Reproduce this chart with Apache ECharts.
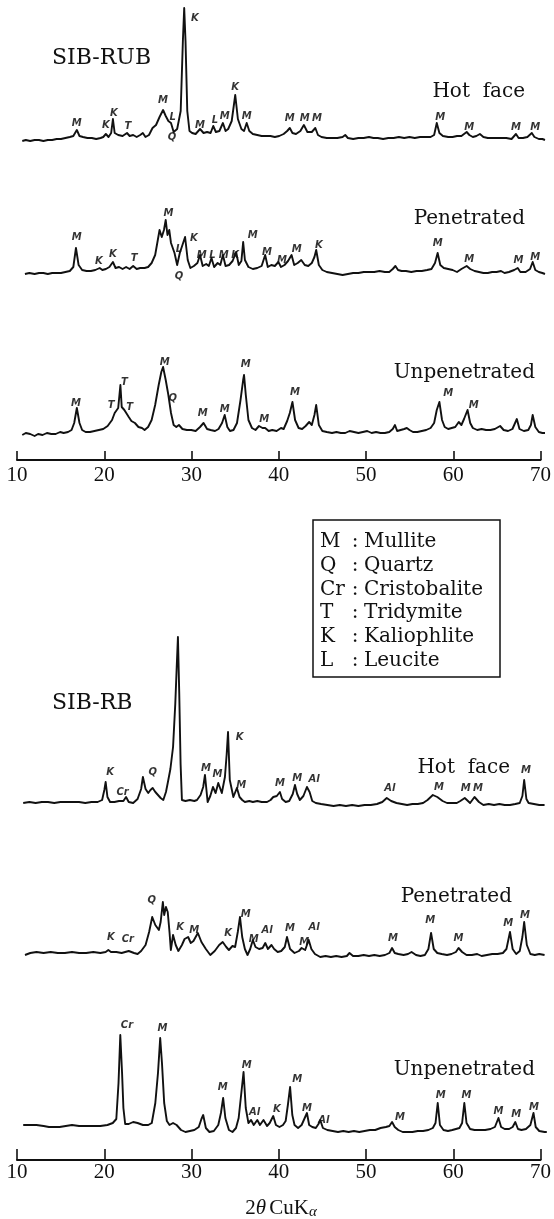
<!DOCTYPE html>
<html><head><meta charset="utf-8">
<script src="https://cdn.jsdelivr.net/npm/echarts/dist/echarts.min.js"></script>
<style>html,body{margin:0;padding:0;background:#fff}#c{width:554px;height:1219px}</style>
</head><body><div id="c"></div>
<script>
// ---- data: [2theta (deg), relative intensity] ----
const rubHot = [[10.6,0],[11.0,1],[11.5,0],[12.0,1],[12.5,1],[13.0,0],[13.5,1],[14.0,1],[14.5,2],[15.0,2],[15.5,3],[16.0,4],[16.4,5],[16.8,11],[17.1,5],[17.5,4],[18.0,3],[18.5,3],[19.0,2],[19.5,3],[19.8,4],[20.1,7],[20.4,4],[20.7,8],[20.9,22],[21.1,8],[21.5,6],[22.0,5],[22.5,8],[22.8,5],[23.2,6],[23.6,4],[24.0,6],[24.3,8],[24.6,4],[25.0,6],[25.4,13],[25.8,16],[26.2,24],[26.6,31],[26.9,25],[27.2,20],[27.5,18],[27.8,9],[28.2,12],[28.6,30],[28.85,100],[29.0,133],[29.15,100],[29.35,30],[29.6,10],[29.9,8],[30.3,7],[30.8,12],[31.2,8],[31.6,9],[32.0,8],[32.3,15],[32.6,9],[33.0,10],[33.4,18],[33.7,10],[34.0,12],[34.4,20],[34.8,46],[35.1,22],[35.5,12],[35.8,10],[36.1,18],[36.4,10],[36.8,7],[37.3,6],[37.8,5],[38.3,5],[38.8,5],[39.3,4],[39.8,5],[40.3,7],[40.7,10],[41.0,13],[41.3,8],[41.7,7],[42.2,10],[42.6,16],[43.0,9],[43.5,9],[43.9,13],[44.2,6],[44.6,4],[45.2,3],[45.8,3],[46.4,3],[47.0,4],[47.3,6],[47.6,3],[48.2,2],[48.8,3],[49.4,3],[50.0,4],[50.2,6],[50.5,3],[51.0,3],[51.6,2],[52.2,3],[52.8,3],[53.4,4],[54.0,3],[54.6,4],[55.2,3],[55.8,4],[56.4,4],[57.0,4],[57.4,6],[57.7,18],[58.0,8],[58.4,5],[59.0,4],[59.5,4],[60.0,5],[60.5,5],[60.8,7],[61.1,9],[61.4,6],[61.8,4],[62.2,5],[62.6,7],[63.0,4],[63.5,3],[64.0,3],[64.5,3],[65.0,3],[65.6,3],[66.2,2],[66.7,7],[67.0,3],[67.5,3],[68.0,4],[68.5,8],[68.8,4],[69.3,2],[69.7,2],[70.0,1]];
const rubHotTags = [[16.8,18,'M'],[20.1,16,'K'],[21.0,28,'K'],[22.6,15,'T'],[26.6,41,'M'],[27.7,24,'L'],[27.6,4,'Q'],[30.2,123,'K'],[30.8,16,'M'],[32.5,21,'L'],[33.6,25,'M'],[34.8,54,'K'],[36.1,25,'M'],[41.0,23,'M'],[42.7,23,'M'],[44.1,23,'M'],[58.1,24,'M'],[61.4,14,'M'],[66.7,14,'M'],[68.9,14,'M']];

const rubPen = [[10.9,1],[11.4,2],[12.0,1],[12.5,2],[13.0,2],[13.5,1],[14.0,2],[14.5,2],[15.0,2],[15.5,3],[16.0,4],[16.4,8],[16.7,27],[17.0,10],[17.4,5],[17.9,4],[18.4,4],[18.9,5],[19.4,7],[19.7,5],[20.1,6],[20.5,8],[20.9,13],[21.2,7],[21.6,8],[22.0,6],[22.4,8],[22.8,6],[23.2,9],[23.6,6],[24.0,7],[24.5,7],[24.9,8],[25.3,12],[25.7,20],[26.0,35],[26.2,45],[26.45,38],[26.7,45],[26.9,55],[27.1,40],[27.3,45],[27.5,32],[27.7,30],[27.9,22],[28.2,10],[28.5,22],[28.8,30],[29.1,38],[29.4,15],[29.7,7],[30.1,9],[30.5,12],[30.8,20],[31.1,9],[31.5,11],[31.8,9],[32.1,17],[32.4,8],[32.8,12],[33.1,10],[33.4,20],[33.7,9],[34.1,10],[34.5,14],[34.9,23],[35.2,10],[35.5,14],[35.7,33],[35.9,15],[36.3,8],[36.8,6],[37.3,7],[37.8,9],[38.2,20],[38.5,8],[38.9,10],[39.3,9],[39.7,13],[40.0,8],[40.4,10],[40.8,14],[41.2,20],[41.5,10],[41.9,12],[42.3,15],[42.7,10],[43.1,9],[43.5,12],[43.8,18],[44.0,25],[44.3,10],[44.7,5],[45.2,3],[45.8,2],[46.4,1],[47.0,0],[47.6,1],[48.2,2],[48.8,2],[49.4,3],[50.0,3],[50.6,3],[51.2,4],[51.8,3],[52.3,3],[52.7,6],[53.0,9],[53.3,5],[53.7,4],[54.2,4],[54.8,3],[55.4,4],[56.0,4],[56.6,5],[57.1,6],[57.5,12],[57.8,22],[58.1,10],[58.5,7],[59.0,6],[59.5,5],[60.0,3],[60.5,6],[61.1,9],[61.5,6],[62.0,4],[62.5,3],[63.0,2],[63.5,2],[64.0,3],[64.5,3],[65.0,4],[65.4,2],[65.9,3],[66.5,5],[66.9,7],[67.2,3],[67.8,3],[68.3,6],[68.6,13],[68.9,5],[69.3,3],[69.7,2],[70.0,1]];
const rubPenTags = [[16.8,38,'M'],[19.3,14,'K'],[20.9,21,'K'],[23.3,17,'T'],[27.2,62,'M'],[28.4,26,'L'],[28.4,-1,'Q'],[30.1,37,'K'],[31.0,20,'M'],[32.2,20,'L'],[33.5,20,'M'],[34.8,20,'K'],[36.8,40,'M'],[38.4,23,'M'],[40.1,15,'M'],[41.8,26,'M'],[44.3,30,'K'],[57.8,32,'M'],[61.4,16,'M'],[67.0,15,'M'],[68.9,18,'M']];

const rubUnpen = [[10.6,0],[11.0,2],[11.5,1],[12.0,-1],[12.4,1],[12.9,0],[13.4,2],[13.9,1],[14.4,1],[14.9,3],[15.3,2],[15.8,3],[16.2,5],[16.5,12],[16.8,27],[17.1,12],[17.4,5],[17.8,3],[18.3,3],[18.8,4],[19.3,5],[19.8,6],[20.3,9],[20.8,15],[21.1,22],[21.5,27],[21.75,50],[21.9,28],[22.2,25],[22.4,23],[22.7,18],[23.0,14],[23.4,12],[23.8,8],[24.2,7],[24.5,5],[24.9,8],[25.3,15],[25.7,30],[26.1,50],[26.4,63],[26.6,68],[26.9,55],[27.2,40],[27.5,22],[27.8,10],[28.1,8],[28.4,10],[28.8,6],[29.3,5],[29.8,5],[30.3,4],[30.8,8],[31.2,12],[31.6,6],[32.0,5],[32.5,4],[32.9,6],[33.3,12],[33.6,20],[33.9,8],[34.2,4],[34.6,5],[35.0,12],[35.4,35],[35.7,55],[35.8,60],[36.0,40],[36.3,15],[36.7,7],[37.1,5],[37.5,9],[37.9,7],[38.2,7],[38.6,4],[39.0,5],[39.5,4],[40.0,7],[40.3,6],[40.7,14],[41.0,22],[41.3,33],[41.6,15],[42.0,7],[42.4,6],[42.8,9],[43.2,13],[43.5,10],[43.8,20],[44.0,30],[44.3,10],[44.7,4],[45.2,3],[45.8,2],[46.3,3],[46.8,2],[47.3,2],[47.8,4],[48.3,3],[48.8,2],[49.3,3],[49.8,4],[50.3,2],[50.8,3],[51.3,2],[51.8,2],[52.3,3],[52.7,6],[52.95,10],[53.2,4],[53.6,5],[54.0,6],[54.3,7],[54.6,5],[55.0,3],[55.5,3],[56.0,4],[56.5,5],[57.0,7],[57.4,12],[57.7,25],[58.0,33],[58.3,15],[58.6,8],[59.0,6],[59.4,7],[59.8,8],[60.2,13],[60.5,10],[60.8,16],[61.2,25],[61.5,12],[61.8,7],[62.3,5],[62.8,6],[63.3,5],[63.8,5],[64.3,6],[64.9,9],[65.3,5],[65.8,4],[66.3,6],[66.8,16],[67.1,6],[67.6,4],[68.1,5],[68.4,10],[68.6,20],[68.9,8],[69.3,3],[69.7,2],[70.0,2]];
const rubUnpenTags = [[16.7,32,'M'],[20.7,30,'T'],[22.2,53,'T'],[22.8,28,'T'],[26.8,73,'M'],[27.7,37,'Q'],[31.1,22,'M'],[33.6,26,'M'],[36.0,71,'M'],[38.1,16,'M'],[41.6,43,'M'],[59.0,42,'M'],[61.9,30,'M']];

const rbHot = [[10.7,1],[11.4,2],[12.1,1],[12.8,2],[13.5,2],[14.2,1],[14.9,2],[15.6,2],[16.3,2],[17.0,2],[17.7,1],[18.4,2],[19.1,2],[19.6,4],[19.85,14],[20.0,22],[20.2,7],[20.5,2],[21.0,2],[21.5,3],[22.0,3],[22.3,7],[22.6,2],[23.1,1],[23.6,5],[24.0,15],[24.2,27],[24.5,15],[24.8,11],[25.05,14],[25.3,16],[25.6,12],[25.9,9],[26.2,6],[26.5,4],[26.8,12],[27.0,21],[27.3,35],[27.6,57],[27.85,100],[28.0,134],[28.15,167],[28.3,110],[28.45,40],[28.6,4],[29.0,3],[29.5,4],[30.0,3],[30.3,4],[30.7,9],[31.0,17],[31.2,29],[31.5,2],[31.8,8],[32.1,17],[32.4,11],[32.7,21],[33.1,11],[33.45,27],[33.65,50],[33.8,72],[34.0,24],[34.4,7],[34.8,16],[35.1,7],[35.4,4],[35.7,2],[36.2,3],[36.6,2],[37.1,3],[37.6,2],[38.2,2],[38.6,4],[38.9,7],[39.3,8],[39.65,12],[39.9,5],[40.3,2],[40.7,3],[41.1,10],[41.35,19],[41.6,10],[41.9,4],[42.3,8],[42.7,17],[43.0,12],[43.3,3],[43.7,1],[44.3,0],[45.0,-1],[45.7,-2],[46.4,-1],[47.1,-2],[47.8,-1],[48.5,-2],[49.2,-1],[49.9,-1],[50.6,0],[51.2,2],[51.7,6],[52.2,3],[52.8,1],[53.4,0],[54.0,-1],[54.6,0],[55.2,0],[55.8,1],[56.3,4],[56.9,9],[57.4,7],[58.0,3],[58.5,1],[59.1,1],[59.6,1],[60.0,3],[60.5,6],[61.1,1],[61.6,7],[62.1,2],[62.6,-1],[63.2,0],[63.8,-1],[64.4,0],[65.0,-1],[65.6,-1],[66.2,0],[66.7,1],[67.0,8],[67.2,24],[67.45,5],[67.7,1],[68.3,0],[68.9,-1],[69.5,-1]];
const rbHotTags = [[20.5,32,'K'],[21.9,12,'Cr'],[25.3,32,'Q'],[31.3,36,'M'],[32.6,30,'M'],[35.1,67,'K'],[35.3,19,'M'],[39.65,21,'M'],[41.6,26,'M'],[43.5,25,'Al'],[52.05,16,'Al'],[57.6,17,'M'],[60.6,16,'M'],[62.0,16,'M'],[67.4,34,'M']];

const rbPen = [[10.9,2],[11.5,4],[12.2,5],[13.0,4],[13.8,5],[14.6,4],[15.4,4],[16.2,5],[17.0,4],[17.8,4],[18.6,5],[19.4,4],[20.0,5],[20.3,7],[20.6,5],[21.2,5],[21.8,4],[22.6,6],[23.2,4],[23.6,3],[24.0,6],[24.5,12],[24.9,25],[25.25,40],[25.6,32],[26.0,27],[26.2,35],[26.45,55],[26.6,42],[26.8,50],[27.0,45],[27.2,25],[27.35,7],[27.6,22],[27.9,12],[28.2,6],[28.6,12],[28.9,18],[29.3,20],[29.6,14],[29.9,16],[30.4,24],[30.8,15],[31.3,8],[31.8,2],[32.3,6],[32.8,12],[33.2,15],[33.6,10],[33.9,7],[34.3,11],[34.6,10],[34.9,25],[35.15,40],[35.4,20],[35.7,8],[36.0,2],[36.3,8],[36.6,17],[36.9,10],[37.3,8],[37.7,9],[38.0,14],[38.3,8],[38.7,12],[39.0,8],[39.4,5],[39.8,6],[40.2,10],[40.45,20],[40.8,8],[41.3,4],[41.8,6],[42.1,9],[42.5,7],[42.9,17],[43.2,8],[43.6,3],[44.2,0],[44.8,1],[45.4,0],[46.0,1],[46.6,0],[47.2,1],[47.5,4],[47.9,1],[48.5,1],[49.1,2],[49.7,1],[50.3,2],[50.9,1],[51.5,2],[52.0,4],[52.3,9],[52.6,4],[53.0,3],[53.6,2],[54.1,3],[54.5,5],[55.0,2],[55.5,1],[56.0,2],[56.4,8],[56.7,24],[57.0,8],[57.4,4],[57.9,3],[58.5,2],[59.0,3],[59.5,5],[59.8,9],[60.2,5],[60.7,2],[61.3,2],[61.9,3],[62.4,1],[63.0,2],[63.6,3],[64.2,3],[64.8,4],[65.2,8],[65.6,25],[65.9,8],[66.3,3],[66.7,6],[67.0,20],[67.2,35],[67.5,12],[67.9,3],[68.4,2],[68.9,3],[69.5,2]];
const rbPenTags = [[20.6,20,'K'],[22.5,18,'Cr'],[25.2,57,'Q'],[28.4,30,'K'],[30.0,27,'M'],[33.8,24,'K'],[35.8,43,'M'],[36.7,18,'M'],[38.2,27,'Al'],[40.8,29,'M'],[42.4,15,'M'],[43.5,30,'Al'],[52.4,19,'M'],[56.6,37,'M'],[59.8,19,'M'],[65.4,34,'M'],[67.3,42,'M']];

const rbUnpen = [[10.7,8],[11.4,8],[12.2,8],[13.0,7],[13.6,6],[14.2,6],[14.8,6],[15.5,7],[16.2,8],[17.0,7],[17.8,7],[18.6,7],[19.4,7],[20.2,8],[20.8,10],[21.2,14],[21.45,50],[21.65,98],[21.85,60],[22.0,25],[22.2,9],[22.6,9],[23.1,11],[23.6,10],[24.2,8],[24.8,8],[25.2,10],[25.6,30],[25.9,60],[26.15,95],[26.35,70],[26.6,30],[26.9,12],[27.2,8],[27.6,10],[28.0,8],[28.5,3],[29.0,1],[29.5,2],[30.0,3],[30.5,6],[30.8,14],[31.0,18],[31.3,5],[31.7,1],[32.2,2],[32.7,8],[33.0,20],[33.25,35],[33.5,15],[33.9,3],[34.3,1],[34.7,5],[35.0,15],[35.3,40],[35.55,61],[35.8,25],[36.1,10],[36.4,13],[36.7,8],[37.1,13],[37.4,8],[37.8,13],[38.2,7],[38.5,10],[38.9,17],[39.2,8],[39.6,6],[40.0,8],[40.3,12],[40.55,28],[40.8,46],[41.05,18],[41.3,8],[41.7,5],[42.1,8],[42.45,15],[42.7,20],[42.95,8],[43.3,6],[43.7,5],[44.0,9],[44.2,13],[44.5,5],[45.0,3],[45.6,2],[46.2,1],[46.8,2],[47.4,1],[48.0,2],[48.6,1],[49.2,2],[49.8,3],[50.4,3],[51.0,5],[51.6,6],[52.0,7],[52.3,11],[52.6,6],[53.0,3],[53.5,1],[54.0,1],[54.6,1],[55.2,2],[55.8,2],[56.4,3],[56.9,5],[57.2,10],[57.45,30],[57.7,8],[58.1,3],[58.6,2],[59.1,3],[59.5,4],[59.9,5],[60.2,10],[60.45,30],[60.7,10],[61.1,4],[61.6,3],[62.2,3],[62.8,3],[63.4,4],[63.9,6],[64.3,15],[64.6,6],[65.0,4],[65.5,4],[65.9,6],[66.2,11],[66.5,4],[66.9,3],[67.4,4],[67.9,8],[68.25,20],[68.5,6],[68.9,2],[69.5,1],[69.75,1]];
const rbUnpenTags = [[22.4,108,'Cr'],[26.4,105,'M'],[33.2,46,'M'],[35.9,68,'M'],[36.8,21,'Al'],[39.3,24,'K'],[41.6,54,'M'],[42.7,25,'M'],[44.6,13,'Al'],[53.2,16,'M'],[57.8,38,'M'],[60.7,38,'M'],[64.3,22,'M'],[66.3,19,'M'],[68.3,26,'M']];

const sampleNames = ['SIB-RUB', 'SIB-RB'];
const traceNames = ['Hot  face', 'Penetrated', 'Unpenetrated'];
const legendCodes = ['M', 'Q', 'Cr', 'T', 'K', 'L'];
const legendNames = ['Mullite', 'Quartz', 'Cristobalite', 'Tridymite', 'Kaliophlite', 'Leucite'];
const xTicks = [10, 20, 30, 40, 50, 60, 70];

// ---- layout ----
const panels = [{left: 17, width: 528, axisY: 460, tickLen: 9, labelMargin: 5},
                {left: 17, width: 532, axisY: 1160, tickLen: 11, labelMargin: 2}];
const traces = [
  {d: rubHot, t: rubHotTags, ref: 141, top: 1, p: 0, lx: 525, ly: 92},
  {d: rubPen, t: rubPenTags, ref: 275, top: 190, p: 0, lx: 525, ly: 219},
  {d: rubUnpen, t: rubUnpenTags, ref: 435, top: 355, p: 0, lx: 535, ly: 373},
  {d: rbHot, t: rbHotTags, ref: 804, top: 620, p: 1, lx: 510, ly: 768},
  {d: rbPen, t: rbPenTags, ref: 957, top: 890, p: 1, lx: 512, ly: 897},
  {d: rbUnpen, t: rbUnpenTags, ref: 1133, top: 1010, p: 1, lx: 535, ly: 1070}
];
const YMIN = -12;
const ink = '#111';
const grids = [], xAxes = [], yAxes = [], series = [];
traces.forEach((tr, i) => {
  const P = panels[tr.p];
  grids.push({left: P.left, width: P.width, top: tr.top, height: tr.ref - YMIN - tr.top});
  xAxes.push({type: 'value', gridIndex: i, min: 10, max: 70, interval: 10, show: false});
  yAxes.push({type: 'value', gridIndex: i, min: YMIN, max: tr.ref - tr.top, show: false});
  series.push({type: 'line', xAxisIndex: i, yAxisIndex: i, data: tr.d, showSymbol: false, symbol: 'none',
    lineStyle: {color: ink, width: 1.9, join: 'round'}, clip: false, silent: true});
  series.push({type: 'scatter', xAxisIndex: i, yAxisIndex: i, data: tr.t, symbolSize: 1, clip: false, silent: true,
    itemStyle: {color: 'rgba(0,0,0,0)'},
    label: {show: true, position: 'inside', formatter: p => p.value[2], color: '#000',
      fontFamily: 'DejaVu Sans', fontStyle: 'italic', fontWeight: 'bold', fontSize: 10}});
});
panels.forEach((P, k) => {
  const gi = grids.length;
  grids.push({left: P.left, width: P.width, top: P.axisY - 20, height: 20});
  xAxes.push({type: 'value', gridIndex: gi, min: xTicks[0], max: xTicks[xTicks.length - 1], interval: 10, position: 'bottom',
    axisLine: {show: true, onZero: false, lineStyle: {color: ink, width: 2}},
    axisTick: {show: true, inside: true, length: P.tickLen, lineStyle: {color: ink, width: 1.6}},
    axisLabel: {show: true, margin: P.labelMargin, color: ink, fontFamily: 'Liberation Serif', fontSize: 21},
    splitLine: {show: false}});
  yAxes.push({type: 'value', gridIndex: gi, show: false});
});

const serif = 'DejaVu Serif';
const graphic = [];
graphic.push({type: 'text', x: 52, y: 58, style: {text: sampleNames[0], font: '22px "' + serif + '"', fill: ink, textVerticalAlign: 'middle'}});
graphic.push({type: 'text', x: 52, y: 703, style: {text: sampleNames[1], font: '22px "' + serif + '"', fill: ink, textVerticalAlign: 'middle'}});
traces.forEach((tr, i) => {
  graphic.push({type: 'text', x: tr.lx, y: tr.ly, style: {text: traceNames[i % 3], font: '20px "' + serif + '"', fill: ink, textAlign: 'right', textVerticalAlign: 'middle'}});
});
graphic.push({type: 'rect', shape: {x: 313, y: 520, width: 187, height: 157}, style: {fill: 'none', stroke: ink, lineWidth: 1.5}});
legendCodes.forEach((c, j) => {
  const y = 542 + j * 23.7;
  graphic.push({type: 'text', x: 320, y: y, style: {text: c, font: '20px "' + serif + '"', fill: ink, textVerticalAlign: 'middle'}});
  graphic.push({type: 'text', x: 355, y: y, style: {text: ':', font: '20px "' + serif + '"', fill: ink, textAlign: 'center', textVerticalAlign: 'middle'}});
  graphic.push({type: 'text', x: 364, y: y, style: {text: legendNames[j], font: '20px "' + serif + '"', fill: ink, textVerticalAlign: 'middle'}});
});
graphic.push({type: 'text', x: 281, y: 1208, style: {
  text: '{n|2}{i|θ} {n|CuK}{s|α}', textAlign: 'center', textVerticalAlign: 'middle', fill: ink,
  rich: {n: {fontFamily: 'Liberation Serif', fontSize: 21, color: ink},
         i: {fontFamily: 'Liberation Serif', fontStyle: 'italic', fontSize: 21, color: ink},
         s: {fontFamily: 'Liberation Serif', fontStyle: 'italic', fontSize: 15, color: ink, verticalAlign: 'bottom', padding: [8, 0, 0, 0]}}}});

const chart = echarts.init(document.getElementById('c'), null, {renderer: 'canvas'});
chart.setOption({animation: false, backgroundColor: '#fff', grid: grids, xAxis: xAxes, yAxis: yAxes, series: series, graphic: graphic});
</script>
</body></html>
